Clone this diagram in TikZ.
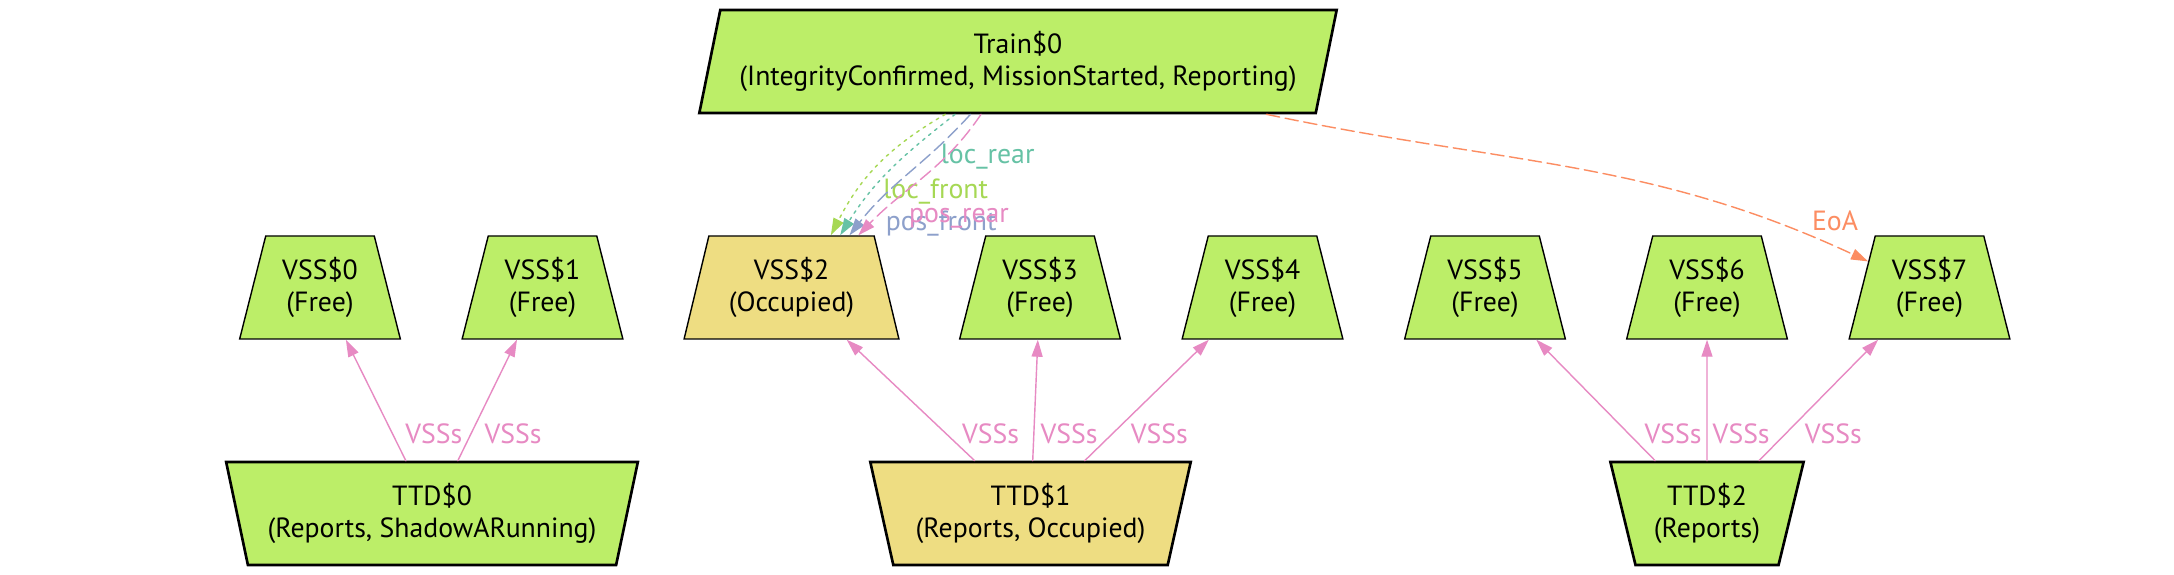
\documentclass[tikz,border=0pt]{standalone}
\usepackage{fontspec}
\setmainfont{PT Sans}
\usepackage{tikz}
\usetikzlibrary{arrows.meta,shapes.geometric}
\definecolor{freegreen}{HTML}{BCEE68}
\definecolor{occupiedgold}{HTML}{EEDD82}
\definecolor{linkgreen}{HTML}{A6D854}
\definecolor{linkteal}{HTML}{66C2A5}
\definecolor{linkblue}{HTML}{8DA0CB}
\definecolor{linkpink}{HTML}{E78AC3}
\definecolor{linkorange}{HTML}{FC8D62}
\newcommand{\etcsfont}{\fontsize{7.9pt}{9pt}\selectfont}
\tikzset{
  every picture/.append style={line cap=round},
  etcs section/.style={trapezium,trapezium stretches=true,draw,fill=freegreen,
    trapezium left angle=73.5,trapezium right angle=73.5,line width=0.4pt,
    minimum width=1.61cm,minimum height=1.03cm,inner sep=1pt,align=center,font=\etcsfont},
  etcs detection/.style={etcs section,trapezium left angle=106.5,trapezium right angle=106.5,
    line width=0.75pt},
  etcs train/.style={etcs section,trapezium left angle=73.5,trapezium right angle=106.5,
    line width=0.75pt,minimum width=6.38cm},
  etcs arrow/.style={line width=0.4pt,-{Triangle[length=1.7mm,width=1.1mm]}},
  etcs label/.style={font=\etcsfont,inner sep=0pt}
}

\begin{document}
\begin{tikzpicture}[
  vss link/.style={etcs arrow,linkpink},
  vss label/.style={etcs label,text=linkpink,pos=0.22,anchor=west,xshift=0.15cm},
  dotty/.style={dash pattern=on 0.8pt off 1.4pt},
  dashy/.style={dash pattern=on 3.8pt off 1.6pt}
]
\fill[white] (0,0) rectangle (21.74,-5.75);
\useasboundingbox (0,0) rectangle (21.74,-5.75);

\node[etcs train] (train) at (10.18,-0.615) {Train\$0\\(IntegrityConfirmed, MissionStarted, Reporting)};

% sections
\node[etcs section] (vss0) at (3.20,-2.875) {VSS\$0\\(Free)};
\node[etcs section] (vss1) at (5.425,-2.875) {VSS\$1\\(Free)};
\node[etcs section,fill=occupiedgold,minimum width=2.15cm] (vss2) at (7.915,-2.875) {VSS\$2\\(Occupied)};
\node[etcs section] (vss3) at (10.40,-2.875) {VSS\$3\\(Free)};
\node[etcs section] (vss4) at (12.625,-2.875) {VSS\$4\\(Free)};
\node[etcs section] (vss5) at (14.85,-2.875) {VSS\$5\\(Free)};
\node[etcs section] (vss6) at (17.07,-2.875) {VSS\$6\\(Free)};
\node[etcs section] (vss7) at (19.295,-2.875) {VSS\$7\\(Free)};

% detection sections
\node[etcs detection,minimum width=4.12cm] (ttd0) at (4.32,-5.135) {TTD\$0\\(Reports, ShadowARunning)};
\node[etcs detection,fill=occupiedgold,minimum width=3.21cm] (ttd1) at (10.305,-5.135) {TTD\$1\\(Reports, Occupied)};
\node[etcs detection,minimum width=1.94cm] (ttd2) at (17.07,-5.135) {TTD\$2\\(Reports)};

\draw[vss link] (ttd0) -- node[vss label,xshift=-0.03cm] {VSSs} (vss0);
\draw[vss link] (ttd0) -- node[vss label,xshift=-0.02cm] {VSSs} (vss1);
\draw[vss link] (ttd1) -- node[vss label] {VSSs} (vss2);
\draw[vss link] (ttd1) -- node[vss label,xshift=-0.09cm] {VSSs} (vss3);
\draw[vss link] (ttd1) -- node[vss label,xshift=0.03cm] {VSSs} (vss4);
\draw[vss link] (ttd2) -- node[vss label] {VSSs} (vss5);
\draw[vss link] (ttd2) -- node[vss label,xshift=-0.1cm] {VSSs} (vss6);
\draw[vss link] (ttd2) -- node[vss label,xshift=0.04cm] {VSSs} (vss7);

% train position on the sections
\draw[etcs arrow,linkgreen,dotty] (train.216) to[out=210,in=63]
  node[etcs label,text=linkgreen,pos=0.62,anchor=west,xshift=0.17cm,yshift=-0.12cm] {loc\_front} (vss2.53);
\draw[etcs arrow,linkteal,dotty] (train.220) to[out=218,in=58]
  node[etcs label,text=linkteal,pos=0.3,anchor=west,xshift=0.26cm,yshift=-0.09cm] {loc\_rear} (vss2.47);
\draw[etcs arrow,linkblue,dashy] (train.228) to[out=228,in=52]
  node[etcs label,text=linkblue,pos=0.88,anchor=west,xshift=0.21cm,yshift=-0.06cm] {pos\_front} (vss2.42);
\draw[etcs arrow,linkpink,dashy] (train.235) to[out=236,in=46]
  node[etcs label,text=linkpink,pos=0.8,anchor=west,xshift=0.23cm,yshift=-0.09cm] {pos\_rear} (vss2.38);
\draw[etcs arrow,linkorange,dashy] (train.348) to[out=-12,in=155]
  node[etcs label,text=linkorange,pos=0.93,above=0.1cm,xshift=0.12cm] {EoA} (vss7.157);
\end{tikzpicture}
\end{document}
